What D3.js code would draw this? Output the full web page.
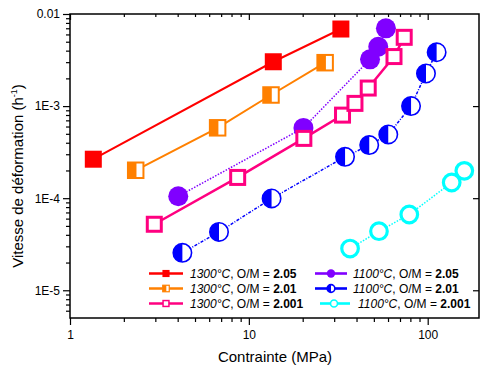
<!DOCTYPE html>
<html><head><meta charset="utf-8">
<script src="https://cdn.jsdelivr.net/npm/d3@7"></script>
<style>body{margin:0;background:#fff}svg{display:block;font-family:"Liberation Sans",Arial,sans-serif}</style>
</head><body><svg id="c" width="480" height="368"></svg>
<script>
// ---- data ----
const red_x = [1.35, 13.7, 32.7];
const red_y = [2.65e-4, 3.03e-3, 6.87e-3];
const orange_x = [2.33, 6.69, 13.3, 26.7];
const orange_y = [2.01e-4, 5.81e-4, 1.32e-3, 2.96e-3];
const pink_x = [2.96, 8.66, 20.3, 33.4, 39.2, 46.5, 64.8, 73.9];
const pink_y = [5.21e-5, 1.68e-4, 4.46e-4, 7.98e-4, 1.07e-3, 1.57e-3, 3.45e-3, 5.58e-3];
const purple_x = [4.03, 20.2, 47.6, 52.9, 58.4];
const purple_y = [1.05e-4, 5.8e-4, 3.22e-3, 4.41e-3, 6.99e-3];
const blue_x = [4.25, 6.81, 13.4, 34.5, 47.1, 60.2, 80.7, 97.8, 112.2];
const blue_y = [2.55e-5, 4.30e-5, 9.93e-5, 2.81e-4, 3.77e-4, 4.92e-4, 1.0e-3, 2.26e-3, 3.84e-3];
const cyan_x = [36.8, 53.4, 78.9, 136.2, 160.2];
const cyan_y = [2.84e-5, 4.38e-5, 6.65e-5, 1.48e-4, 1.98e-4];
const temps = ["1300°C", "1300°C", "1300°C", "1100°C", "1100°C", "1100°C"];
const omValues = ["2.05", "2.01", "2.001", "2.05", "2.01", "2.001"];
const xTickLabels = ["1", "10", "100"];
const yTickLabels = ["0.01", "1E-3", "1E-4", "1E-5"];
const xTitle = "Contrainte (MPa)";

const series = [
  {x: red_x, y: red_y, color: "#ff0000", marker: "fsq", dash: null, lw: 2, t: temps[0], om: omValues[0]},
  {x: orange_x, y: orange_y, color: "#ff8000", marker: "hsq", dash: null, lw: 2, t: temps[1], om: omValues[1]},
  {x: pink_x, y: pink_y, color: "#ff0080", marker: "osq", dash: null, lw: 2.5, t: temps[2], om: omValues[2]},
  {x: purple_x, y: purple_y, color: "#8000ff", marker: "fci", dash: "1.5,1.5", lw: 1.5, t: temps[3], om: omValues[3]},
  {x: blue_x, y: blue_y, color: "#0000ff", marker: "hci", dash: "3,1.5,1,1.5", lw: 1.5, t: temps[4], om: omValues[4]},
  {x: cyan_x, y: cyan_y, color: "#00ffff", marker: "oci", dash: "1.5,1.5", lw: 1.5, t: temps[5], om: omValues[5]}
];

const svg = d3.select("#c");
const L = 70, R = 479, T = 14, B = 318;
const x = d3.scaleLog().domain([1, Math.pow(10, 409/178.85)]).range([L, R]);
const y = d3.scaleLog().domain([5e-6, 0.01]).range([B, T]);

// axes
const xMajors = [1, 10, 100];
const xMinors = [];
for (let d of [1, 10, 100]) for (let k = 2; k <= 9; k++) { const v = d*k; if (v <= x.domain()[1]) xMinors.push(v); }
const yMajors = [0.01, 1e-3, 1e-4, 1e-5];
const yMinors = [];
for (let d of [1e-6, 1e-5, 1e-4, 1e-3]) for (let k = 2; k <= 9; k++) { const v = d*k; if (v >= 5e-6 && v < 0.01) yMinors.push(v); }

const xAxisB = d3.axisBottom(x).tickValues(xMajors).tickFormat((d,i) => xTickLabels[i]).tickSize(7).tickSizeOuter(0);
const gb = svg.append("g").attr("transform", `translate(0,${B})`).call(xAxisB);
gb.append("g").call(d3.axisBottom(x).tickValues(xMinors).tickFormat("").tickSize(4).tickSizeOuter(0));
const xAxisT = d3.axisBottom(x).tickValues(xMajors).tickFormat("").tickSize(6).tickSizeOuter(0);
const gt = svg.append("g").attr("transform", `translate(0,${T})`).call(xAxisT);
gt.append("g").call(d3.axisBottom(x).tickValues(xMinors).tickFormat("").tickSize(3).tickSizeOuter(0));

const yAxisL = d3.axisLeft(y).tickValues(yMajors).tickFormat((d,i) => yTickLabels[i]).tickSize(7).tickSizeOuter(0);
const gl = svg.append("g").attr("transform", `translate(${L},0)`).call(yAxisL);
gl.append("g").call(d3.axisLeft(y).tickValues(yMinors).tickFormat("").tickSize(4).tickSizeOuter(0));
const gr = svg.append("g").attr("transform", `translate(${R},0)`).call(d3.axisLeft(y).tickValues(yMajors.slice(1)).tickFormat("").tickSize(6).tickSizeOuter(0));

svg.selectAll(".domain").remove();
svg.selectAll(".tick line").attr("stroke", "#000").attr("stroke-width", 1.2);
gb.selectAll(".tick text").attr("font-size", 12).attr("font-family", "Liberation Sans, Arial, sans-serif").attr("fill", "#000").attr("dy", "0.95em");
gl.selectAll(".tick text").attr("font-size", 12).attr("font-family", "Liberation Sans, Arial, sans-serif").attr("fill", "#000").attr("x", -10);

// frame
svg.append("rect").attr("x", L).attr("y", T).attr("width", R - L).attr("height", B - T)
  .attr("fill", "none").attr("stroke", "#000").attr("stroke-width", 1.5);

// titles
svg.append("text").attr("x", 275).attr("y", 362).attr("text-anchor", "middle").attr("font-size", 15).text(xTitle);
const yt = svg.append("text").attr("transform", "translate(23,176) rotate(-90)").attr("text-anchor", "middle").attr("font-size", 15);
yt.append("tspan").text("Vitesse de déformation (h");
yt.append("tspan").attr("font-size", 9).attr("dy", -6).text("-1");
yt.append("tspan").attr("dy", 6).text(")");

// markers
function drawMarker(g, m, color, cx, cy, s) {
  if (m === "fsq") {
    const a = 17*s;
    g.append("rect").attr("x", cx - a/2).attr("y", cy - a/2).attr("width", a).attr("height", a).attr("fill", color);
  } else if (m === "hsq") {
    const a = 15.5*s, sw = 2*Math.max(s,0.6);
    g.append("rect").attr("x", cx - a/2).attr("y", cy - a/2).attr("width", a).attr("height", a).attr("fill", "#fff").attr("stroke", color).attr("stroke-width", sw);
    g.append("rect").attr("x", cx - a/2).attr("y", cy - a/2).attr("width", a*0.55).attr("height", a).attr("fill", color);
  } else if (m === "osq") {
    const a = 14*s, sw = 3*Math.max(s,0.5);
    g.append("rect").attr("x", cx - a/2).attr("y", cy - a/2).attr("width", a).attr("height", a).attr("fill", "#fff").attr("stroke", color).attr("stroke-width", sw);
  } else if (m === "fci") {
    g.append("circle").attr("cx", cx).attr("cy", cy).attr("r", 10*s).attr("fill", color);
  } else if (m === "hci") {
    const r = 9.2*s;
    g.append("circle").attr("cx", cx).attr("cy", cy).attr("r", r).attr("fill", "#fff").attr("stroke", color).attr("stroke-width", 1.6);
    g.append("path").attr("d", `M${cx},${cy - r} A${r},${r} 0 0 0 ${cx},${cy + r} Z`).attr("fill", color);
  } else if (m === "oci") {
    const r = 8.3*s;
    g.append("circle").attr("cx", cx).attr("cy", cy).attr("r", r).attr("fill", "#fff").attr("stroke", color).attr("stroke-width", 3.2*Math.max(s,0.5));
  }
}

const order = [3, 4, 5, 0, 1, 2];
const line = d3.line().x(d => x(d[0])).y(d => y(d[1]));
for (const i of order) {
  const s = series[i];
  const pts = s.x.map((v, k) => [v, s.y[k]]);
  const g = svg.append("g");
  g.append("path").attr("d", line(pts)).attr("fill", "none").attr("stroke", s.color)
    .attr("stroke-width", s.lw).attr("stroke-dasharray", s.dash);
  pts.forEach(p => drawMarker(g, s.marker, s.color, x(p[0]), y(p[1]), 1));
}

// legend
const legRows = [273.5, 288.5, 303.5];
const legCols = [{l0: 149, l1: 183, m: 166, t: 190}, {l0: 315, l1: 347, m: 331, t: 353}];
series.forEach((s, i) => {
  const col = legCols[Math.floor(i/3)], row = legRows[i % 3];
  let c = Object.assign({}, col);
  if (i === 5) { c = {l0: 320, l1: 350, m: 334, t: 358}; }
  const g = svg.append("g");
  g.append("line").attr("x1", c.l0).attr("x2", c.l1).attr("y1", row).attr("y2", row)
    .attr("stroke", s.color).attr("stroke-width", 2.6);
  drawMarker(g, s.marker, s.color, c.m, row, 0.42);
  const t = g.append("text").attr("x", c.t).attr("y", row + 4.5).attr("font-size", 12);
  t.append("tspan").attr("font-style", "italic").text(s.t);
  t.append("tspan").text(", O/M = ");
  t.append("tspan").attr("font-weight", "bold").text(s.om);
});
</script></body></html>
